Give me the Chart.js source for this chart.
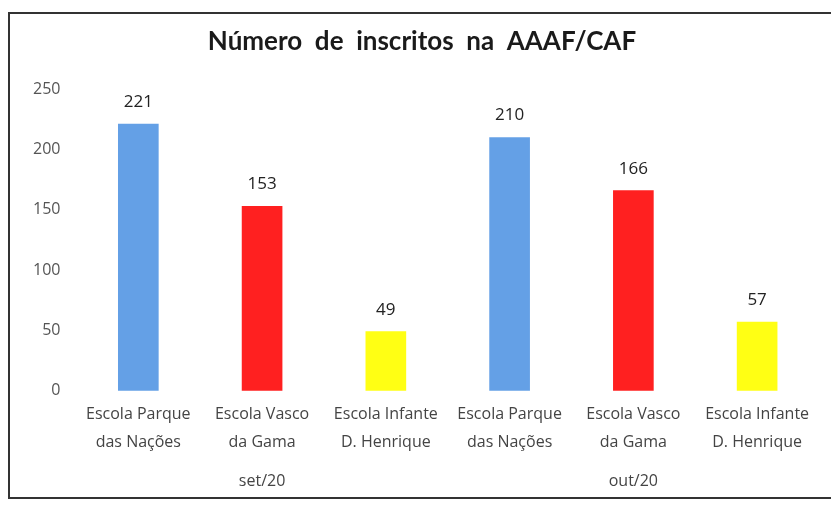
<!DOCTYPE html>
<html>
<head>
<meta charset="utf-8">
<script src="https://cdn.jsdelivr.net/npm/chart.js@4.4.0/dist/chart.umd.min.js"></script>
<style>
    body { margin: 0; background: #fff; }
    #wrap { position: relative; width: 831px; height: 506px; }
    #frame {
        position: absolute; left: 8px; top: 12px; width: 822px; height: 483px;
        border: 2px solid #333; border-right: none;
    }
    canvas { position: absolute; left: 0; top: 0; }
</style>
</head>
<body>
<div id="wrap">
    <div id="frame"></div>
    <canvas id="inscritos" width="831" height="506"></canvas>
</div>
<script>
    const schools = [
        ["Escola Parque", "das Nações"],
        ["Escola Vasco", "da Gama"],
        ["Escola Infante", "D. Henrique"],
        ["Escola Parque", "das Nações"],
        ["Escola Vasco", "da Gama"],
        ["Escola Infante", "D. Henrique"],
    ];
    const months = ["set/20", "out/20"];
    const inscritos = [221, 153, 49, 210, 166, 57];
    const barColors = ["#64a0e6", "#ff2020", "#ffff14", "#64a0e6", "#ff2020", "#ffff14"];
    const yTicks = [0, 50, 100, 150, 200, 250];

    // values above the bars
    const valueLabels = {
        id: "valueLabels",
        afterDatasetsDraw(chart) {
            const ctx = chart.ctx;
            const meta = chart.getDatasetMeta(0);
            ctx.save();
            ctx.font = "17px 'Open Sans'";
            ctx.fillStyle = "#222";
            ctx.textAlign = "center";
            ctx.textBaseline = "alphabetic";
            meta.data.forEach((bar, i) => {
                ctx.fillText(inscritos[i], bar.x, bar.y - 17);
            });
            ctx.restore();
        },
    };

    new Chart(document.getElementById("inscritos"), {
        type: "bar",
        data: {
            labels: schools,
            datasets: [
                {
                    data: inscritos,
                    backgroundColor: barColors,
                    barThickness: 40,
                },
            ],
        },
        options: {
            responsive: false,
            animation: false,
            layout: { padding: { left: 25, right: 12, top: 14, bottom: 10 } },
            plugins: {
                legend: { display: false },
                tooltip: { enabled: false },
                title: {
                    display: true,
                    text: "Número  de  inscritos  na  AAAF/CAF",
                    color: "#1a1a1a",
                    font: { family: "Lato", size: 26, weight: "bold" },
                    padding: { top: 12, bottom: 32 },
                },
            },
            scales: {
                x: {
                    grid: { display: false },
                    border: { display: false },
                    ticks: {
                        color: "#444",
                        font: { family: "Open Sans", size: 16, lineHeight: 1.75 },
                        maxRotation: 0,
                        padding: 2,
                    },
                },
                x2: {
                    type: "category",
                    labels: months,
                    position: "bottom",
                    offset: true,
                    grid: { display: false },
                    border: { display: false },
                    ticks: {
                        color: "#444",
                        font: { family: "Open Sans", size: 16 },
                        padding: 5,
                    },
                },
                y: {
                    min: 0,
                    max: 250,
                    afterBuildTicks: (axis) => {
                        axis.ticks = yTicks.map((v) => ({ value: v }));
                    },
                    grid: { display: false },
                    border: { display: false },
                    ticks: {
                        color: "#555",
                        font: { family: "Open Sans", size: 16 },
                        padding: 8,
                    },
                },
            },
        },
        plugins: [valueLabels],
    });
</script>
</body>
</html>
